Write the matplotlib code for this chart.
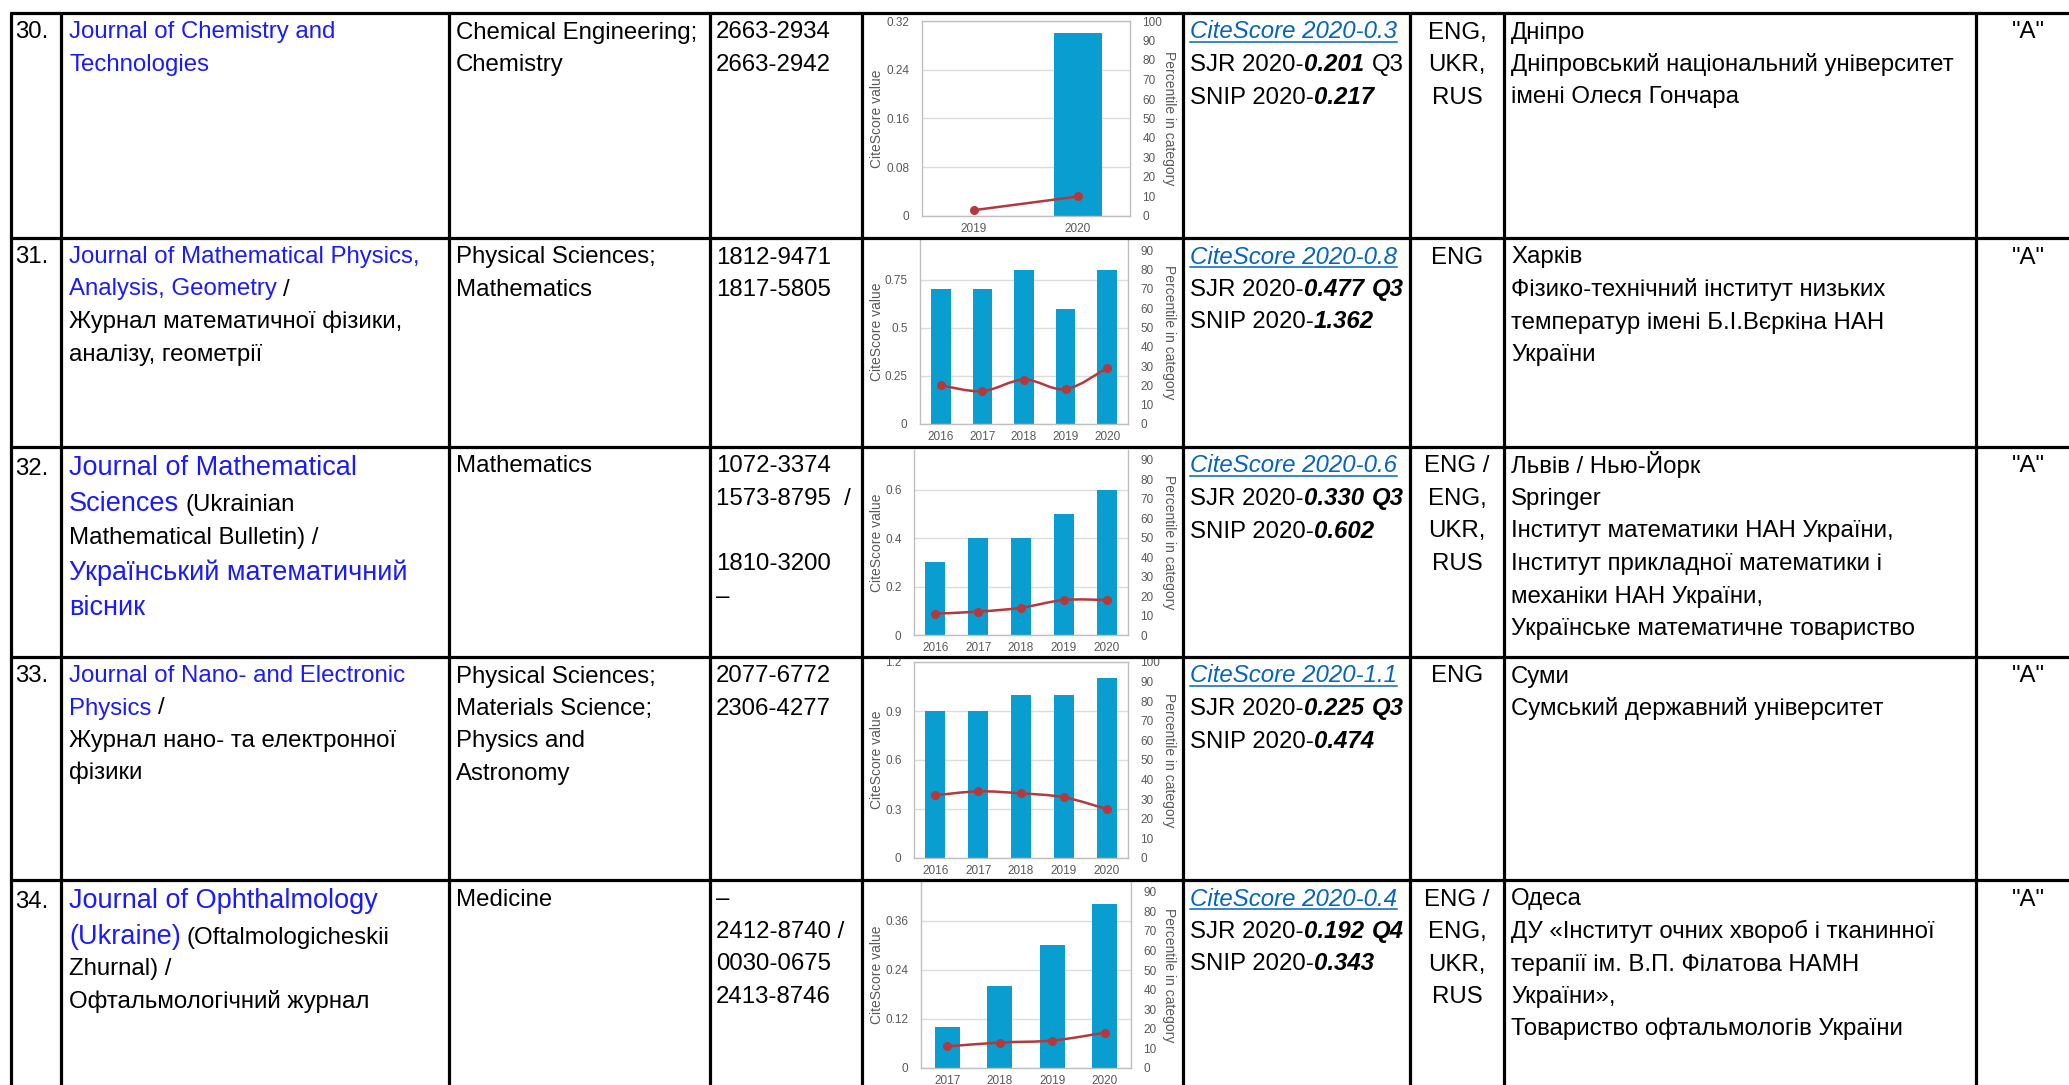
import matplotlib
matplotlib.use('Agg')
import matplotlib.pyplot as plt
from matplotlib.path import Path
from matplotlib.patches import PathPatch
import numpy as np

# ---------------- data ----------------
row_numbers = ['30.', '31.', '32.', '33.', '34.']

# title lines: list of runs (text, style) ; b = blue link, B = big blue, k = black
titles = [
    [[('Journal of Chemistry and', 'b')], [('Technologies', 'b')]],
    [[('Journal of Mathematical Physics,', 'b')], [('Analysis, Geometry', 'b'), (' /', 'k')],
     [('Журнал математичної фізики,', 'k')], [('аналізу, геометрії', 'k')]],
    [[('Journal of Mathematical', 'B')], [('Sciences', 'B'), (' (Ukrainian', 'k')],
     [('Mathematical Bulletin) /', 'k')], [('Український математичний', 'B')], [('вісник', 'B')]],
    [[('Journal of Nano- and Electronic', 'b')], [('Physics', 'b'), (' /', 'k')],
     [('Журнал нано- та електронної', 'k')], [('фізики', 'k')]],
    [[('Journal of Ophthalmology', 'B')], [('(Ukraine)', 'B'), (' (Oftalmologicheskii', 'k')],
     [('Zhurnal) /', 'k')], [('Офтальмологічний журнал', 'k')]],
]

subject_areas = [
    ['Chemical Engineering;', 'Chemistry'],
    ['Physical Sciences;', 'Mathematics'],
    ['Mathematics'],
    ['Physical Sciences;', 'Materials Science;', 'Physics and', 'Astronomy'],
    ['Medicine'],
]

issn_lines = [
    ['2663-2934', '2663-2942'],
    ['1812-9471', '1817-5805'],
    ['1072-3374', '1573-8795  /', '', '1810-3200', '–'],
    ['2077-6772', '2306-4277'],
    ['–', '2412-8740 /', '0030-0675', '2413-8746'],
]

citescore_2020 = ['0.3', '0.8', '0.6', '1.1', '0.4']
sjr_2020 = ['0.201', '0.477', '0.330', '0.225', '0.192']
sjr_quartile = ['Q3', 'Q3', 'Q3', 'Q3', 'Q4']
quartile_bold = [False, True, True, True, True]
snip_2020 = ['0.217', '1.362', '0.602', '0.474', '0.343']

languages = [
    ['ENG,', 'UKR,', 'RUS'],
    ['ENG'],
    ['ENG /', 'ENG,', 'UKR,', 'RUS'],
    ['ENG'],
    ['ENG /', 'ENG,', 'UKR,', 'RUS'],
]

publishers = [
    ['Дніпро', 'Дніпровський національний університет', 'імені Олеся Гончара'],
    ['Харків', 'Фізико-технічний інститут низьких', 'температур імені Б.І.Вєркіна НАН', 'України'],
    ['Львів / Нью-Йорк', 'Springer', 'Інститут математики НАН України,',
     'Інститут прикладної математики і', 'механіки НАН України,', 'Українське математичне товариство'],
    ['Суми', 'Сумський державний університет'],
    ['Одеса', 'ДУ «Інститут очних хвороб і тканинної', 'терапії ім. В.П. Філатова НАМН',
     'України»,', 'Товариство офтальмологів України'],
]

grades = ['"A"', '"A"', '"A"', '"A"', '"A"']

# chart data
chart_years = [
    ['2019', '2020'],
    ['2016', '2017', '2018', '2019', '2020'],
    ['2016', '2017', '2018', '2019', '2020'],
    ['2016', '2017', '2018', '2019', '2020'],
    ['2017', '2018', '2019', '2020'],
]
citescore_series = [
    [np.nan, 0.30],
    [0.7, 0.7, 0.8, 0.6, 0.8],
    [0.3, 0.4, 0.4, 0.5, 0.6],
    [0.9, 0.9, 1.0, 1.0, 1.1],
    [0.1, 0.2, 0.3, 0.4],
]
percentile_series = [
    [3, 10],
    [20, 17, 23, 18, 29],
    [11, 12, 14, 18, 18],
    [32, 34, 33, 31, 25],
    [11, 13, 14, 18],
]
left_ticks = [
    [0, 0.08, 0.16, 0.24, 0.32],
    [0, 0.25, 0.5, 0.75],
    [0, 0.2, 0.4, 0.6],
    [0, 0.3, 0.6, 0.9, 1.2],
    [0, 0.12, 0.24, 0.36],
]
right_ticks = [
    list(range(0, 101, 10)),
    list(range(0, 91, 10)),
    list(range(0, 91, 10)),
    list(range(0, 101, 10)),
    list(range(0, 91, 10)),
]

# ---------------- layout ----------------
W, H = 2069, 1085
FAM = ['Liberation Sans Narrow', 'Liberation Sans', 'DejaVu Sans']
plt.rcParams['font.family'] = FAM

row_tops = [13, 238, 447, 657, 880]
col_x = [11, 61, 449, 710, 862, 1183, 1410, 1504, 1976]
BLUE = '#1a1aff'
LINK = '#0563c1'
PITCH = 32.5

fig = plt.figure(figsize=(W / 100, H / 100), dpi=100)
tab = fig.add_axes([0, 0, 1, 1])
tab.set_xlim(0, W)
tab.set_ylim(H, 0)
tab.axis('off')
renderer = fig.canvas.get_renderer()


def fit_size(sample, target_px):
    t = tab.text(0, 0, sample, fontsize=10)
    w = t.get_window_extent(renderer).width
    t.remove()
    return 10.0 * target_px / w


FS = fit_size('Chemical Engineering;', 242)
FS_BIG = fit_size('Journal of Mathematical', 290)

styles = {
    'k': dict(color='black', fontsize=FS),
    'b': dict(color=BLUE, fontsize=FS),
    'B': dict(color=BLUE, fontsize=FS_BIG),
}


def draw_runs(x, y, parts, space=0.26):
    cur = x
    for txt, st in parts:
        st = dict(st)
        underline = st.pop('underline', False)
        if txt.startswith(' '):
            n = len(txt) - len(txt.lstrip(' '))
            cur += n * st.get('fontsize', FS) * 1.389 * space
            txt = txt.lstrip(' ')
        t = tab.text(cur, y, txt, va='baseline', ha='left', **st)
        bb = t.get_window_extent(renderer)
        if underline:
            tab.plot([cur, bb.x1], [y + 3.5, y + 3.5], color=st.get('color', 'k'), lw=1.1)
        cur = bb.x1
    return cur


title_offsets = [
    [25, 57.5],
    [25, 57.5, 90, 122.5],
    [28, 64, 97, 133, 168],
    [25, 57.5, 90, 122.5],
    [28, 64, 95, 128],
]

for r in range(5):
    top = row_tops[r]
    base = top + 25.5
    tab.text(15, top + title_offsets[r][0], row_numbers[r], va='baseline', ha='left',
             fontsize=FS, color='black')
    for li, line in enumerate(titles[r]):
        draw_runs(69, top + title_offsets[r][li], [(t, styles[s]) for t, s in line])
    for li, s in enumerate(subject_areas[r]):
        tab.text(456, base + li * PITCH, s, va='baseline', fontsize=FS)
    for li, s in enumerate(issn_lines[r]):
        tab.text(716, base + li * PITCH, s, va='baseline', fontsize=FS)
    draw_runs(1190, base, [('CiteScore 2020-' + citescore_2020[r],
                            dict(color=LINK, fontsize=FS, style='italic', underline=True))])
    qst = dict(color='black', fontsize=FS)
    if quartile_bold[r]:
        qst = dict(color='black', fontsize=FS, weight='bold', style='italic')
    draw_runs(1190, base + PITCH, [('SJR 2020-', dict(color='black', fontsize=FS)),
                                   (sjr_2020[r], dict(color='black', fontsize=FS, weight='bold', style='italic')),
                                   ('  ' + sjr_quartile[r], qst)], space=0.17)
    draw_runs(1190, base + 2 * PITCH, [('SNIP 2020-', dict(color='black', fontsize=FS)),
                                       (snip_2020[r], dict(color='black', fontsize=FS, weight='bold', style='italic'))])
    for li, s in enumerate(languages[r]):
        tab.text(1457, base + li * PITCH, s, va='baseline', ha='center', fontsize=FS)
    for li, s in enumerate(publishers[r]):
        tab.text(1511, base + li * PITCH, s, va='baseline', fontsize=FS)
    tab.text(2028, base, grades[r], va='baseline', ha='center', fontsize=FS)

# ---------------- charts ----------------
chart_rects = [  # left, top, right, bottom in pixels
    (922, 21, 1130, 216),
    (920, 240, 1128, 424),
    (914, 450, 1128, 635),
    (914, 662, 1128, 858),
    (921, 882, 1131, 1068),
]
left_lims = [(0, 0.32), (0, 0.957), (0, 0.764), (0, 1.2), (0, 0.455)]
right_lims = [(0, 100), (0, 95.2), (0, 95.1), (0, 100), (0, 94.9)]
boxed = [True, False, False, True, False]
LEFT_LABEL_X = 877
RIGHT_LABEL_X = 1169

BAR = '#0a9dcf'
RED = '#b5393c'
GRAY = '#595959'
SPINE = '#bfbfbf'
GRID = '#dcdcdc'
CFS = 8.5
LFS = 10


def smooth_path(xs, ys):
    P = np.column_stack([xs, ys]).astype(float)
    n = len(P)
    verts = [P[0]]
    codes = [Path.MOVETO]
    for i in range(n - 1):
        p0 = P[i - 1] if i > 0 else P[i]
        p1 = P[i]
        p2 = P[i + 1]
        p3 = P[i + 2] if i + 2 < n else P[i + 1]
        c1 = p1 + (p2 - p0) / 6.0
        c2 = p2 - (p3 - p1) / 6.0
        verts += [c1, c2, p2]
        codes += [Path.CURVE4] * 3
    return Path(verts, codes)


for c in range(5):
    l, t, rgt, b = chart_rects[c]
    w = rgt - l
    ax = fig.add_axes([l / W, 1 - b / H, w / W, (b - t) / H])
    n = len(chart_years[c])
    xi = np.arange(n)
    ax.bar(xi, citescore_series[c], width=0.47, color=BAR, zorder=2)
    ax.set_xlim(-0.5, n - 0.5)
    ax.set_ylim(*left_lims[c])
    ax.set_yticks(left_ticks[c])
    ax.set_yticklabels(['{:g}'.format(v) for v in left_ticks[c]])
    ax.set_xticks(xi)
    ax.set_xticklabels(chart_years[c])
    ax.set_axisbelow(True)
    ax.yaxis.grid(True, color=GRID, lw=1.0)
    ax.tick_params(length=0, labelsize=CFS, labelcolor=GRAY, pad=5)
    ax.tick_params(axis='y', pad=9)
    for side in ['left', 'right', 'bottom', 'top']:
        ax.spines[side].set_color(SPINE)
        ax.spines[side].set_linewidth(1.0)
    ax.spines['top'].set_visible(boxed[c])
    ax.set_ylabel('CiteScore value', fontsize=LFS, color=GRAY, va='center', ha='center')
    ax.yaxis.set_label_coords((LEFT_LABEL_X - l) / w, 0.5)
    ax.patch.set_alpha(0)

    ax2 = ax.twinx()
    ax2.set_ylim(*right_lims[c])
    ax2.set_yticks(right_ticks[c])
    ax2.set_yticklabels([str(v) for v in right_ticks[c]])
    ax2.tick_params(length=0, labelsize=CFS, labelcolor=GRAY, pad=9)
    for side in ['left', 'right', 'bottom', 'top']:
        ax2.spines[side].set_visible(False)
    ax2.add_patch(PathPatch(smooth_path(xi, percentile_series[c]), fill=False,
                            edgecolor=RED, lw=1.8, zorder=3))
    ax2.plot(xi, percentile_series[c], 'o', color=RED, ms=5.5, zorder=4)
    ax2.set_ylabel('Percentile in category', fontsize=LFS, color=GRAY, rotation=270,
                   va='center', ha='center')
    ax2.yaxis.set_label_coords((RIGHT_LABEL_X - l) / w, 0.5)

# ---------------- borders ----------------
ov = fig.add_axes([0, 0, 1, 1], zorder=10)
ov.set_xlim(0, W)
ov.set_ylim(H, 0)
ov.axis('off')
ov.patch.set_alpha(0)
for y in row_tops:
    ov.plot([col_x[0] - 1.5, W], [y, y], color='black', lw=2.3, solid_capstyle='butt')
for x in col_x:
    ov.plot([x, x], [row_tops[0] - 1.5, H], color='black', lw=2.3, solid_capstyle='butt')

fig.savefig('out.png', dpi=100)
